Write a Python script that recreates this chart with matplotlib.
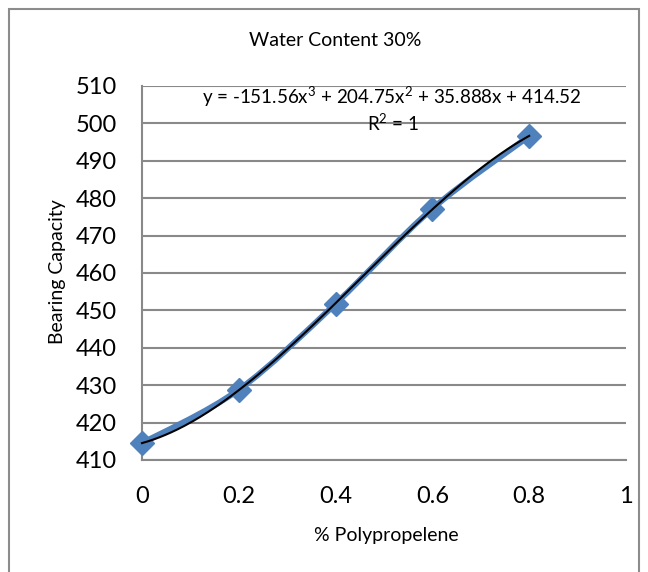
import numpy as np
import matplotlib
matplotlib.use("Agg")
import matplotlib.pyplot as plt
from matplotlib.path import Path
from matplotlib.patches import PathPatch, Rectangle

plt.rcParams['font.family'] = ['Lato', 'DejaVu Sans']
plt.rcParams['mathtext.fontset'] = 'custom'
plt.rcParams['mathtext.rm'] = 'Lato'

# данные
pp = [0, 0.2, 0.4, 0.6, 0.8]
bearing = [414.5, 428.8, 451.8, 477.2, 496.6]
# коэффициенты тренда (как в подписи Excel)
coef = [-151.56, 204.75, 35.888, 414.52]
yticks = [410, 420, 430, 440, 450, 460, 470, 480, 490, 500, 510]
xticks = [0, 0.2, 0.4, 0.6, 0.8, 1]
xticklabels = ['0', '0.2', '0.4', '0.6', '0.8', '1']

blue = '#4F81BD'
grid_c = '#898989'
W, H = 648, 572

fig = plt.figure(figsize=(6.48, 5.72), dpi=100)
ax = fig.add_axes([142/W, 1-460/H, 484/W, 374/H])

# сглаженная линия (Catmull-Rom -> Bezier)
pts = np.column_stack([pp, bearing])
verts = [tuple(pts[0])]
codes = [Path.MOVETO]
for i in range(len(pts)-1):
    p0 = pts[max(i-1, 0)]
    p1 = pts[i]
    p2 = pts[i+1]
    p3 = pts[min(i+2, len(pts)-1)]
    c1 = p1 + (p2-p0)/6
    c2 = p2 - (p3-p1)/6
    verts += [tuple(c1), tuple(c2), tuple(p2)]
    codes += [Path.CURVE4]*3
ax.add_patch(PathPatch(Path(verts, codes), fc='none', ec=blue, lw=4.2,
                       capstyle='round', joinstyle='round', zorder=3, clip_on=False))
ax.plot(pp, bearing, ls='none', marker='D', ms=12, color=blue, zorder=4, clip_on=False)

# тренд
xt = np.linspace(pp[0], pp[-1], 200)
ax.plot(xt, np.polyval(coef, xt), color='black', lw=1.5, zorder=5, clip_on=False)

ax.set_xlim(0, 1)
ax.set_ylim(410, 510)
ax.set_xticks(xticks)
ax.set_xticklabels(xticklabels)
ax.set_yticks(yticks)
ax.yaxis.grid(True, color=grid_c, lw=1.5)
ax.set_axisbelow(True)
for s in ['top', 'right']:
    ax.spines[s].set_visible(False)
for s in ['left', 'bottom']:
    ax.spines[s].set_color(grid_c)
    ax.spines[s].set_linewidth(1.5)
ax.tick_params(axis='y', length=0, labelsize=17, pad=18)
ax.tick_params(axis='x', length=0, labelsize=17, pad=19)

fig.text(386/W, 1-535/H, '% Polypropelene', ha='center', va='center', fontsize=14)
fig.text(57/W, 1-272/H, 'Bearing Capacity', ha='center', va='center',
         rotation=90, fontsize=14)

fig.text(392/W, 1-97/H, 'y = -151.56x$^3$ + 204.75x$^2$ + 35.888x + 414.52',
         ha='center', va='center', fontsize=13.5)
fig.text(393/W, 1-123/H, 'R$^2$ = 1', ha='center', va='center', fontsize=13.5)

fig.text(335/W, 1-41/H, 'Water Content 30%', ha='center', va='center', fontsize=14)

# рамка
fig.patches.append(Rectangle((9/W, -0.05), 630/W, 1.05-9/H, transform=fig.transFigure,
                             fill=False, ec='#8c8c8c', lw=1.5))

fig.savefig('out.png', dpi=100)
